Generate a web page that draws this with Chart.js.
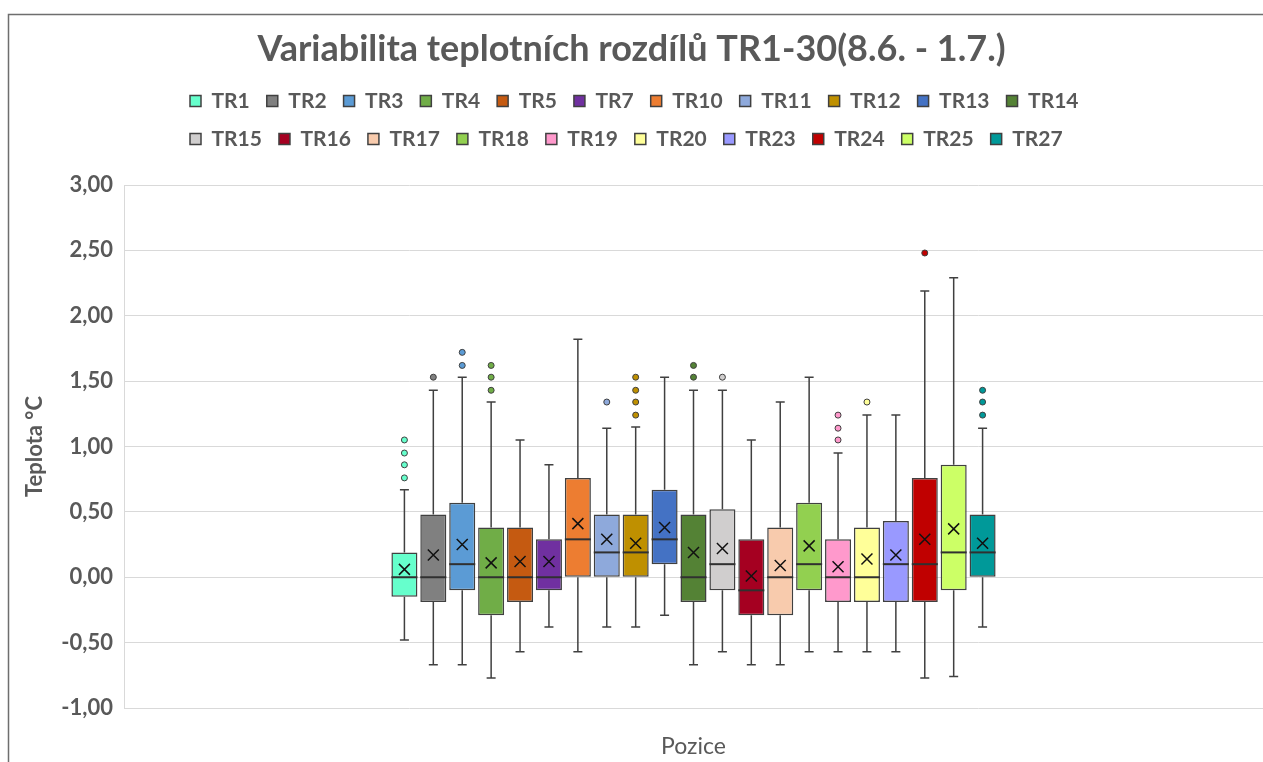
<!DOCTYPE html>
<html><head><meta charset="utf-8">
<script src="https://cdn.jsdelivr.net/npm/chart.js@4/dist/chart.umd.min.js"></script>
<style>html,body{margin:0;padding:0;background:#fff;overflow:hidden}#wrap{position:relative;width:1263px;height:762px}</style>
</head><body><div id="wrap"><canvas id="c" width="1263" height="762"></canvas></div>
<script>
// ---- data ----
const categories = [''];
const seriesNames = ['TR1','TR2','TR3','TR4','TR5','TR7','TR10','TR11','TR12','TR13','TR14','TR15','TR16','TR17','TR18','TR19','TR20','TR23','TR24','TR25','TR27'];
const seriesColors = ['#66ffcc','#808080','#5b9bd5','#70ad47','#c55a11','#7030a0','#ed7d31','#8ea9db','#bf9000','#4472c4','#548235','#d0cece','#a50021','#f8cbad','#92d050','#ff99cc','#ffff99','#9999ff','#c00000','#ccff66','#009999'];
const q1Values     = [-0.15,-0.19,-0.10,-0.29,-0.19,-0.10,0.00,0.00,0.00,0.10,-0.19,-0.10,-0.29,-0.29,-0.10,-0.19,-0.19,-0.19,-0.19,-0.10,0.00];
const medianValues = [0.00,0.00,0.10,0.00,0.00,0.00,0.29,0.19,0.19,0.29,0.00,0.10,-0.10,0.00,0.10,0.00,0.00,0.10,0.10,0.19,0.19];
const q3Values     = [0.19,0.48,0.57,0.38,0.38,0.29,0.76,0.48,0.48,0.67,0.48,0.52,0.29,0.38,0.57,0.29,0.38,0.43,0.76,0.86,0.48];
const minValues    = [-0.48,-0.67,-0.67,-0.77,-0.57,-0.38,-0.57,-0.38,-0.38,-0.29,-0.67,-0.57,-0.67,-0.67,-0.57,-0.57,-0.57,-0.57,-0.77,-0.76,-0.38];
const maxValues    = [0.67,1.43,1.53,1.34,1.05,0.86,1.82,1.14,1.15,1.53,1.43,1.43,1.05,1.34,1.53,0.95,1.24,1.24,2.19,2.29,1.14];
const meanValues   = [0.06,0.17,0.25,0.11,0.12,0.12,0.41,0.29,0.26,0.38,0.19,0.22,0.01,0.09,0.24,0.08,0.14,0.17,0.29,0.37,0.26];
const outlierValues = [[0.76,0.86,0.95,1.05],[1.53],[1.62,1.72],[1.43,1.53,1.62],[],[],[],[1.34],[1.24,1.34,1.43,1.53],[],[1.53,1.62],[1.53],[],[],[],[1.05,1.14,1.24],[1.34],[],[2.48],[],[1.24,1.34,1.43]];
const yTickMin = -1, yTickMax = 3, yTickStep = 0.5;

// ---- style constants ----
const FONT = 'Lato';
const TEXT = '#595959';
const LEGEND_ROW1 = 11;
const LEGEND_EXTRA = 25.5;
const LEGEND_START_X = 190;
const LEGEND_FONT_SIZE = 21;

function legendRowWidth(lg) {
  const ctx = lg.ctx;
  const pad = lg.options.labels.padding;
  const boxW = lg.options.labels.boxWidth;
  ctx.save();
  ctx.font = 'bold ' + LEGEND_FONT_SIZE + 'px ' + FONT;
  let acc = 0;
  const n = Math.min(LEGEND_ROW1, lg.legendItems.length);
  for (let k = 0; k < n; k++) {
    acc += boxW + LEGEND_FONT_SIZE / 2 + ctx.measureText(lg.legendItems[k].text).width + pad;
  }
  ctx.restore();
  return acc;
}

const boxPlugin = {
  id: 'boxWhisker',
  beforeLayout(chart) {
    const lg = chart.legend;
    if (lg && !lg._rowPatched) {
      const orig = lg._fitRows;
      lg._fitRows = function () {
        const m = this.maxWidth;
        const pad = this.options.labels.padding;
        this.maxWidth = legendRowWidth(this) + pad + 5;
        const r = orig.apply(this, arguments);
        this.maxWidth = m;
        return r + LEGEND_EXTRA;
      };
      lg._rowPatched = true;
    }
  },
  afterLayout(chart) {
    const lg = chart.legend;
    if (lg) {
      const pad = lg.options.labels.padding;
      lg.left = LEGEND_START_X - pad;
      lg.right = lg.left + pad + legendRowWidth(lg) + 5;
    }
  },
  beforeDraw(chart) {
    const ctx = chart.ctx;
    ctx.save();
    ctx.fillStyle = '#fff';
    ctx.fillRect(0, 0, chart.width, chart.height);
    ctx.strokeStyle = '#6e6e6e';
    ctx.lineWidth = 1.5;
    ctx.beginPath();
    ctx.moveTo(8.5, chart.height + 2);
    ctx.lineTo(8.5, 14.5);
    ctx.lineTo(chart.width + 2, 14.5);
    ctx.stroke();
    ctx.restore();
  },
  afterDatasetsDraw(chart) {
    const ctx = chart.ctx;
    const ys = chart.scales.y;
    chart.data.datasets.forEach((ds, i) => {
      const meta = chart.getDatasetMeta(i);
      const bar = meta.data[0];
      if (!bar) return;
      const x = bar.x, w = bar.width;
      const yq1 = ys.getPixelForValue(q1Values[i]);
      const yq3 = ys.getPixelForValue(q3Values[i]);
      const ymed = ys.getPixelForValue(medianValues[i]);
      const ymin = ys.getPixelForValue(minValues[i]);
      const ymax = ys.getPixelForValue(maxValues[i]);
      const ymean = ys.getPixelForValue(meanValues[i]);
      ctx.save();
      ctx.strokeStyle = '#404040';
      ctx.lineWidth = 1.5;
      ctx.beginPath();
      ctx.moveTo(x, Math.min(yq1, yq3)); ctx.lineTo(x, ymax);
      ctx.moveTo(x - 4.5, ymax); ctx.lineTo(x + 4.5, ymax);
      ctx.moveTo(x, Math.max(yq1, yq3)); ctx.lineTo(x, ymin);
      ctx.moveTo(x - 4.5, ymin); ctx.lineTo(x + 4.5, ymin);
      ctx.stroke();
      ctx.lineWidth = 2;
      ctx.strokeStyle = '#303030';
      ctx.beginPath();
      ctx.moveTo(x - w / 2, ymed); ctx.lineTo(x + w / 2, ymed);
      ctx.stroke();
      const s = 5.5;
      ctx.lineWidth = 1.5;
      ctx.strokeStyle = '#111';
      ctx.beginPath();
      ctx.moveTo(x - s, ymean - s); ctx.lineTo(x + s, ymean + s);
      ctx.moveTo(x - s, ymean + s); ctx.lineTo(x + s, ymean - s);
      ctx.stroke();
      outlierValues[i].forEach(v => {
        const yo = ys.getPixelForValue(v);
        ctx.beginPath();
        ctx.arc(x, yo, 3, 0, Math.PI * 2);
        ctx.fillStyle = seriesColors[i];
        ctx.fill();
        ctx.lineWidth = 1;
        ctx.strokeStyle = '#404040';
        ctx.stroke();
      });
      ctx.restore();
    });
  }
};

const datasets = seriesNames.map((name, i) => ({
  label: name,
  data: [[q1Values[i], q3Values[i]]],
  backgroundColor: seriesColors[i],
  borderColor: '#404040',
  borderWidth: 1.5,
  borderSkipped: false,
  categoryPercentage: 0.533,
  barPercentage: 0.9
}));

new Chart(document.getElementById('c'), {
  type: 'bar',
  data: { labels: categories, datasets },
  plugins: [boxPlugin],
  options: {
    responsive: false,
    animation: false,
    layout: { padding: 0 },
    plugins: {
      tooltip: { enabled: false },
      title: {
        display: true,
        text: 'Variabilita teplotních rozdílů TR1-30(8.6. - 1.7.)',
        font: { family: FONT, weight: 'bold', size: 36, lineHeight: 1.2 },
        color: TEXT,
        padding: { top: 27.4, bottom: 2.9 }
      },
      legend: {
        display: true,
        position: 'top',
        align: 'start',
        labels: {
          boxWidth: 11,
          boxHeight: 11,
          padding: 17,
          color: TEXT,
          font: { family: FONT, weight: 'bold', size: LEGEND_FONT_SIZE }
        }
      }
    },
    scales: {
      x: {
        type: 'category',
        ticks: { display: false },
        grid: { display: false },
        border: { display: false },
        title: { display: true, text: 'Pozice', color: TEXT, font: { family: FONT, size: 23 }, padding: { top: 0, bottom: 2 } },
        afterFit(s) { s.height = 54; }
      },
      y: {
        min: yTickMin,
        max: yTickMax,
        ticks: {
          stepSize: yTickStep,
          padding: 11,
          color: TEXT,
          font: { family: FONT, weight: 'bold', size: 22 },
          callback: v => Number(v).toFixed(2).replace('.', ',')
        },
        grid: { color: '#d9d9d9', drawTicks: false },
        border: { display: true, color: '#d9d9d9' },
        title: { display: true, text: 'Teplota °C', color: TEXT, font: { family: FONT, weight: 'bold', size: 22 }, padding: { top: 22, bottom: 0 } },
        afterFit(s) { s.width = 124; }
      }
    }
  }
});
</script></body></html>
